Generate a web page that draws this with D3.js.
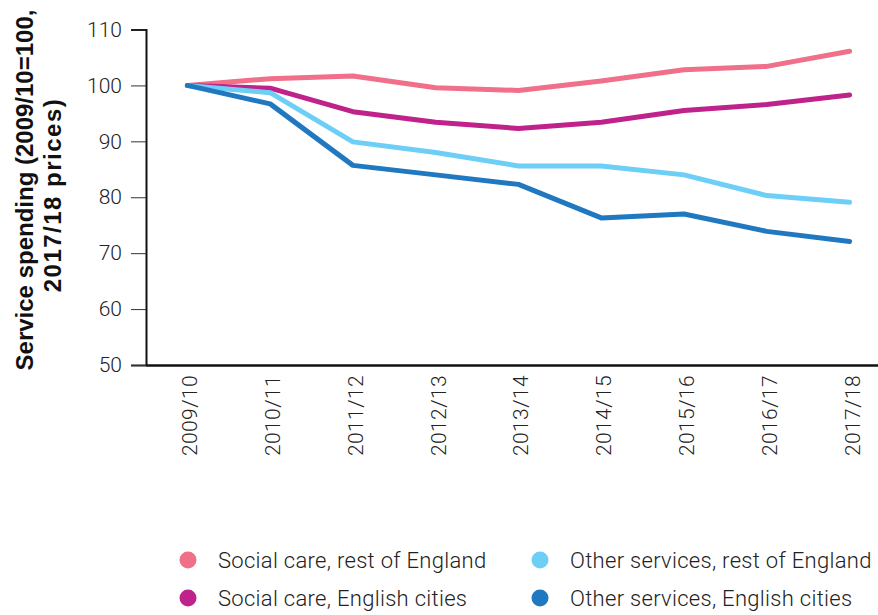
<!DOCTYPE html>
<html>
<head>
<meta charset="utf-8">
<script src="https://cdn.jsdelivr.net/npm/d3@7"></script>
<style>
  html, body { margin: 0; padding: 0; background: #fff; }
  svg { display: block; }
  .tick text { font-family: Roboto, "Noto Sans", sans-serif; font-weight: 300; fill: #222; }
</style>
</head>
<body>
<svg id="chart" width="878" height="615"></svg>
<script>
// Years on the horizontal axis
const years = ["2009/10", "2010/11", "2011/12", "2012/13", "2013/14", "2014/15", "2015/16", "2016/17", "2017/18"];

// Service spending index (2009/10 = 100, 2017/18 prices)
const socialCareRest   = [100, 101.2, 101.7, 99.6, 99.1, 100.8, 102.8, 103.4, 106.1];
const socialCareCities = [100, 99.5, 95.3, 93.4, 92.3, 93.4, 95.5, 96.6, 98.3];
const otherRest        = [100, 98.7, 89.9, 88.0, 85.6, 85.6, 84.0, 80.3, 79.1];
const otherCities      = [100, 96.7, 85.7, 84.0, 82.3, 76.3, 77.0, 73.9, 72.1];

const seriesNames  = ["Social care, rest of England", "Social care, English cities",
                      "Other services, rest of England", "Other services, English cities"];
const seriesValues = [socialCareRest, socialCareCities, otherRest, otherCities];
const seriesColors = ["#f06f89", "#c0228b", "#6dcff6", "#1f78c0"];

const yTicks = [50, 60, 70, 80, 90, 100, 110];

const svg = d3.select("#chart");

const x = d3.scalePoint().domain(years).range([146, 891]).padding(0.5);
const y = d3.scaleLinear().domain([50, 110]).range([365, 29.5]);

// Y axis
const yAxis = svg.append("g")
  .attr("transform", "translate(146,0)")
  .call(d3.axisLeft(y).tickValues(yTicks).tickSize(15).tickPadding(9));
yAxis.select(".domain").attr("stroke", "#111").attr("stroke-width", 2);
yAxis.selectAll(".tick line").attr("stroke", "#333").attr("stroke-width", 1);
yAxis.selectAll(".tick text").attr("font-size", 21);

// X axis with rotated labels
const xAxis = svg.append("g")
  .attr("transform", "translate(0,365)")
  .call(d3.axisBottom(x).tickSize(0).tickPadding(0));
xAxis.select(".domain").attr("stroke", "#111").attr("stroke-width", 2.5);
xAxis.selectAll(".tick text")
  .attr("font-size", 21)
  .attr("letter-spacing", 0.4)
  .attr("transform", "rotate(-90)")
  .attr("text-anchor", "end")
  .attr("x", -10)
  .attr("y", 0)
  .attr("dy", "0.45em");

// Y axis title
const title = svg.append("text")
  .attr("transform", "translate(0,190) rotate(-90)")
  .attr("text-anchor", "middle")
  .attr("font-family", "'Liberation Sans', Arial, sans-serif")
  .attr("font-weight", "bold")
  .attr("font-size", 24)
  .attr("fill", "#111");
title.append("tspan").attr("x", 0).attr("y", 33).text("Service spending (2009/10=100,");
title.append("tspan").attr("x", -5).attr("y", 61).attr("letter-spacing", 1.5).text("2017/18 prices)");

// Series lines
const line = d3.line()
  .x((d, i) => x(years[i]))
  .y(d => y(d));

svg.append("g").selectAll("path")
  .data(seriesValues)
  .join("path")
  .attr("d", line)
  .attr("fill", "none")
  .attr("stroke", (d, i) => seriesColors[i])
  .attr("stroke-width", 5)
  .attr("stroke-linecap", "round")
  .attr("stroke-linejoin", "round");

// Legend: two columns, two rows
const legendPos = [[188, 560], [188, 598], [540, 560], [540, 598]];
const legend = svg.append("g").selectAll("g")
  .data(seriesNames)
  .join("g")
  .attr("transform", (d, i) => `translate(${legendPos[i][0]},${legendPos[i][1]})`);
legend.append("circle")
  .attr("r", 8.5)
  .attr("fill", (d, i) => seriesColors[i]);
legend.append("text")
  .attr("x", 30)
  .attr("dy", "0.36em")
  .attr("font-family", "Roboto, 'Noto Sans', sans-serif")
  .attr("font-weight", 300)
  .attr("font-size", 22)
  .attr("letter-spacing", 0.3)
  .attr("fill", "#222")
  .text(d => d);
</script>
</body>
</html>
